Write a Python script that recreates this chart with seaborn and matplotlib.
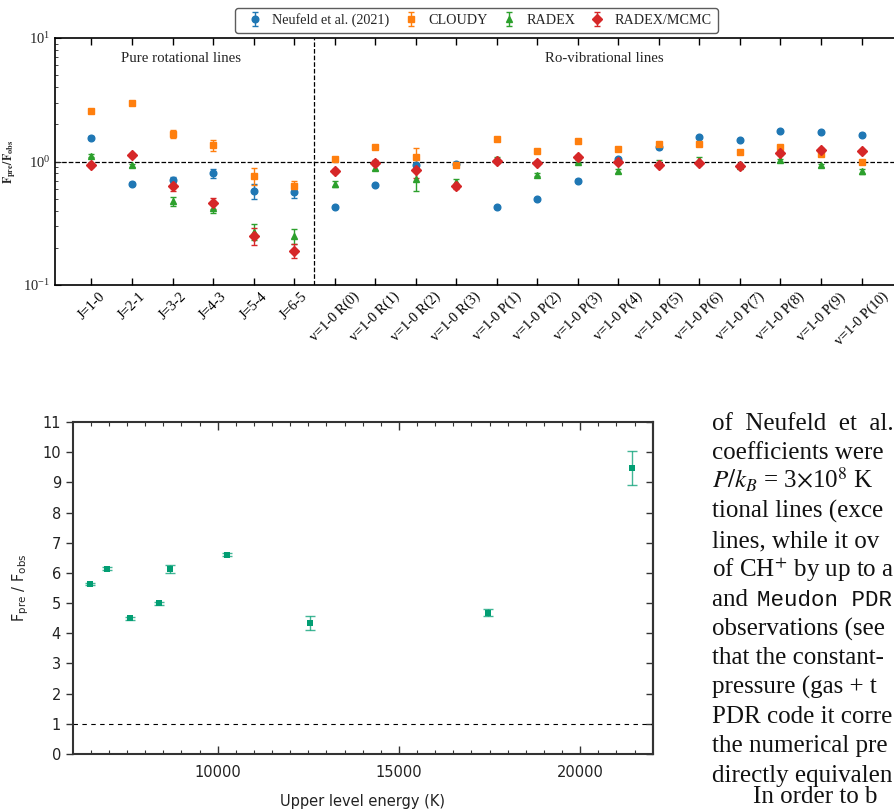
import numpy as np
import matplotlib
matplotlib.use("Agg")
import matplotlib.pyplot as plt
import seaborn as sns

# top panel: predicted / observed flux ratio for each CH+ line
lines = ["J=1-0", "J=2-1", "J=3-2", "J=4-3", "J=5-4", "J=6-5",
         "v=1-0 R(0)", "v=1-0 R(1)", "v=1-0 R(2)", "v=1-0 R(3)",
         "v=1-0 P(1)", "v=1-0 P(2)", "v=1-0 P(3)", "v=1-0 P(4)", "v=1-0 P(5)",
         "v=1-0 P(6)", "v=1-0 P(7)", "v=1-0 P(8)", "v=1-0 P(9)", "v=1-0 P(10)"]
neufeld = [1.56, 0.66, 0.71, 0.80, 0.58, 0.57, 0.43, 0.64, 0.93, 0.96,
           0.43, 0.50, 0.70, 1.04, 1.30, 1.57, 1.50, 1.77, 1.73, 1.65]
neufeld_err = [0.04, 0.02, 0.04, 0.07, 0.08, 0.06, 0.01, 0.01, 0.03, 0.02,
               0.01, 0.01, 0.02, 0.02, 0.03, 0.03, 0.03, 0.04, 0.04, 0.05]
cloudy = [2.57, 3.00, 1.68, 1.35, 0.76, 0.63, 1.04, 1.32, 1.08, 0.93,
          1.51, 1.22, 1.47, 1.26, 1.38, 1.39, 1.20, 1.30, 1.15, 0.99]
cloudy_err = [0.08, 0.08, 0.12, 0.14, 0.12, 0.07, 0.03, 0.04, 0.20, 0.03,
              0.04, 0.03, 0.04, 0.04, 0.05, 0.04, 0.04, 0.06, 0.04, 0.03]
radex = [1.11, 0.93, 0.475, 0.42, 0.27, 0.25, 0.66, 0.89, 0.72, 0.68,
         1.05, 0.78, 1.00, 0.84, 0.98, 1.03, 0.92, 1.02, 0.93, 0.83]
radex_err = [0.03, 0.03, 0.04, 0.04, 0.04, 0.035, 0.04, 0.04, 0.14, 0.04,
             0.03, 0.02, 0.03, 0.03, 0.04, 0.05, 0.03, 0.03, 0.03, 0.04]
mcmc = [0.94, 1.12, 0.63, 0.46, 0.25, 0.19, 0.84, 0.98, 0.85, 0.63,
        1.01, 0.98, 1.09, 0.99, 0.93, 0.97, 0.92, 1.17, 1.23, 1.21]
mcmc_err = [0.03, 0.04, 0.05, 0.05, 0.04, 0.025, 0.03, 0.05, 0.12, 0.03,
            0.03, 0.03, 0.03, 0.03, 0.03, 0.04, 0.03, 0.04, 0.05, 0.04]

# bottom panel: ratio vs upper level energy
energy = [6478, 6955, 7590, 8373, 8684, 10265, 12554, 17447, 21418]
ratio = [5.63, 6.14, 4.49, 4.99, 6.13, 6.60, 4.35, 4.68, 9.47]
ratio_err = [0.04, 0.04, 0.05, 0.05, 0.12, 0.05, 0.23, 0.12, 0.57]

# paper text on the right (only the part that shows on the page)
paper_lines = ["of  Neufeld  et  al.", "coefficients were",
               r"$P/k_B$ = 3$\times$10$^8$ K", "tional lines (exce",
               "lines, while it ov", r"of CH$^{+}$ by up to a", "and ",
               "observations (see", "that the constant-", "pressure (gas + t",
               "PDR code it corre", "the numerical pre", "directly equivalen",
               "In order to b"]

sns.set_style("ticks")
plt.rcParams["font.family"] = ["Liberation Serif", "DejaVu Serif"]
plt.rcParams["mathtext.fontset"] = "stix"
pal = sns.color_palette("tab10")

fig = plt.figure(figsize=(8.94, 8.10), dpi=100)

# ---------- top panel
ax = fig.add_axes([55 / 894, 1 - 285 / 810, 843 / 894, 247 / 810])
x = np.arange(len(lines))
series = [(neufeld, neufeld_err, "o", pal[0], "Neufeld et al. (2021)"),
          (cloudy, cloudy_err, "s", pal[1], "CLOUDY"),
          (radex, radex_err, "^", pal[2], "RADEX"),
          (mcmc, mcmc_err, "D", pal[3], "RADEX/MCMC")]
for vals, err, mk, col, lab in series:
    ax.errorbar(x, vals, yerr=err, fmt=mk, color=col, ms=4.8, capsize=2,
                elinewidth=1, capthick=1, label=lab)
ax.set_yscale("log")
ax.set_ylim(0.1, 10)
ax.set_xlim(-0.9, 19.9)
ax.axhline(1, color="k", ls="--", lw=0.9, zorder=0)
ax.axvline(5.5, color="k", ls="--", lw=0.9, zorder=0)
ax.set_xticks(x)
ax.set_xticklabels(lines, rotation=45, fontsize=10.3)
ax.tick_params(axis="x", direction="in", top=True, length=5, width=1, colors="k")
ax.tick_params(axis="y", which="both", direction="in", labelsize=10.5)
ax.tick_params(axis="y", which="major", length=4)
ax.tick_params(axis="y", which="minor", length=2.5)
for s in ax.spines.values():
    s.set_linewidth(1.2)
    s.set_color("k")
ax.set_ylabel(r"$\mathbf{F_{pre}/F_{obs}}$", fontsize=8.5)
ax.text(2.2, 0.915, "Pure rotational lines", transform=ax.get_xaxis_transform(),
        ha="center", va="center", fontsize=10.7)
ax.text(12.65, 0.915, "Ro-vibrational lines", transform=ax.get_xaxis_transform(),
        ha="center", va="center", fontsize=10.7)
leg = ax.legend(loc="lower center", bbox_to_anchor=(0.5, 1.0), ncol=4,
                fontsize=10.2, frameon=True, fancybox=True, borderaxespad=0.35,
                columnspacing=0.55, handlelength=1.9, handletextpad=0.3)
leg.get_frame().set_edgecolor("#333333")
leg.get_frame().set_linewidth(1.0)

# ---------- bottom panel
teal = sns.color_palette("colorblind")[2]
ax2 = fig.add_axes([72.7 / 894, 1 - 754 / 810, 580 / 894, 332 / 810])
ax2.errorbar(energy, ratio, yerr=ratio_err, fmt="none", ecolor=teal, alpha=0.75,
             elinewidth=1, capsize=3.5, capthick=1)
sns.scatterplot(x=energy, y=ratio, marker="s", color=teal, s=20, linewidth=0,
                ax=ax2, zorder=3)
ax2.axhline(1, color="k", ls=(0, (4, 4)), lw=0.8)
ax2.set_xlim(6000, 22000)
ax2.set_ylim(0, 11)
ax2.set_xticks([10000, 15000, 20000])
ax2.set_xticks(np.arange(6500, 22000, 500), minor=True)
ax2.set_yticks(range(0, 12))
sans = ["DejaVu Sans"]
for lab in ax2.get_xticklabels() + ax2.get_yticklabels():
    lab.set_family(sans)
    lab.set_fontsize(10.5)
    lab.set_color("#222222")
ax2.tick_params(axis="x", which="both", direction="in", top=True, color="#333333")
ax2.tick_params(axis="x", which="major", length=5.5, width=1, pad=8)
ax2.tick_params(axis="x", which="minor", length=3, width=0.8)
ax2.tick_params(axis="y", direction="out", length=5, width=1, color="#333333")
sec = ax2.secondary_yaxis("right")
sec.set_yticks(range(0, 12))
sec.tick_params(direction="in", length=5, width=1, color="#333333", labelright=False)
for s in list(ax2.spines.values()) + [sec.spines["right"]]:
    s.set_linewidth(1.5)
    s.set_color("#333333")
ax2.set_xlabel("Upper level energy (K)", family=sans, fontsize=10.5,
               color="#222222", labelpad=10)
ax2.set_ylabel(r"F$_{\mathrm{pre}}$ / F$_{\mathrm{obs}}$", family=sans, fontsize=10.5,
               color="#222222", math_fontfamily="dejavusans", labelpad=8)

# ---------- paper text
for i, t in enumerate(paper_lines):
    xx = 753 if i == len(paper_lines) - 1 else 712.5
    yy = min(430 + i * 29.3, 803)
    fig.text(xx / 894, 1 - yy / 810, t, fontsize=18, va="baseline",
             ha="left", math_fontfamily="stix", color="#111111")
fig.text(757 / 894, 1 - (430 + 6 * 29.3) / 810, "Meudon PDR", fontsize=16.2,
         family=["Liberation Mono", "DejaVu Sans Mono"], va="baseline", color="#111111")

fig.savefig("out.png", dpi=100)
